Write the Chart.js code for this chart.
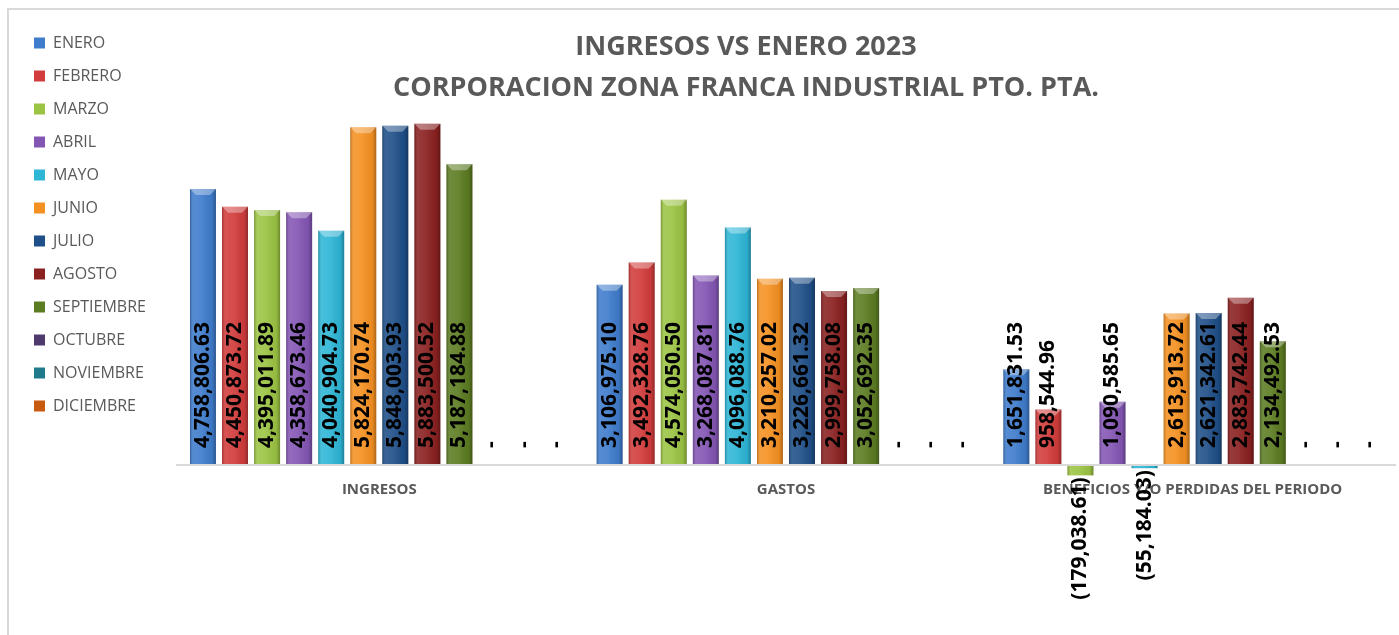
<!DOCTYPE html>
<html>
<head>
<meta charset="utf-8">
<script src="https://cdn.jsdelivr.net/npm/chart.js@4.4.1/dist/chart.umd.min.js"></script>
<style>
  body { margin: 0; background: #fff; }
  #wrap { position: relative; width: 1399px; height: 635px; overflow: hidden; }
  #frame { position: absolute; left: 7px; top: 8px; right: -10px; bottom: -10px;
           border-left: 2px solid #d9d9d9; border-top: 2px solid #d9d9d9; }
  #chart { position: absolute; left: 0; top: 0; }
</style>
</head>
<body>
<div id="wrap">
  <div id="frame"></div>
  <canvas id="chart" width="1399" height="635"></canvas>
</div>
<script>
const categories = ['INGRESOS', 'GASTOS', 'BENEFICIOS Y/O PERDIDAS DEL PERIODO'];
const months = ['ENERO', 'FEBRERO', 'MARZO', 'ABRIL', 'MAYO', 'JUNIO', 'JULIO',
                'AGOSTO', 'SEPTIEMBRE', 'OCTUBRE', 'NOVIEMBRE', 'DICIEMBRE'];

const enero      = [4758806.63, 3106975.10, 1651831.53];
const febrero    = [4450873.72, 3492328.76, 958544.96];
const marzo      = [4395011.89, 4574050.50, -179038.61];
const abril      = [4358673.46, 3268087.81, 1090585.65];
const mayo       = [4040904.73, 4096088.76, -55184.03];
const junio      = [5824170.74, 3210257.02, 2613913.72];
const julio      = [5848003.93, 3226661.32, 2621342.61];
const agosto     = [5883500.52, 2999758.08, 2883742.44];
const septiembre = [5187184.88, 3052692.35, 2134492.53];
const octubre    = [0, 0, 0];
const noviembre  = [0, 0, 0];
const diciembre  = [0, 0, 0];

const monthValues = [enero, febrero, marzo, abril, mayo, junio, julio,
                     agosto, septiembre, octubre, noviembre, diciembre];
const monthColors = ['#3f7ccc', '#d23c3c', '#9cc444', '#8456b4', '#2eb6d6', '#f59122',
                     '#1f4f88', '#8a2020', '#5c7c22', '#4f3a6e', '#1f7a8c', '#c85a10'];

const titleLines = ['INGRESOS VS ENERO 2023', 'CORPORACION ZONA FRANCA INDUSTRIAL PTO. PTA.'];

function fmt(v) {
    if (v === 0) return '-';
    const s = Math.abs(v).toLocaleString('en-US', { minimumFractionDigits: 2, maximumFractionDigits: 2 });
    return v < 0 ? '(' + s + ')' : s;
}

// bevel / shine on each bar, then the rotated value labels
const barLook = {
    id: 'barLook',
    afterDatasetsDraw(chart) {
        const ctx = chart.ctx;
        const zeroY = chart.scales.y.getPixelForValue(0);
        chart.data.datasets.forEach((ds, di) => {
            const meta = chart.getDatasetMeta(di);
            meta.data.forEach((bar, i) => {
                const v = ds.data[i];
                const left = bar.x - bar.width / 2;
                const right = bar.x + bar.width / 2;
                const top = Math.min(bar.y, bar.base);
                const bottom = Math.max(bar.y, bar.base);
                if (v !== 0) {
                    const g = ctx.createLinearGradient(left, 0, right, 0);
                    g.addColorStop(0, 'rgba(0,0,0,0.25)');
                    g.addColorStop(0.12, 'rgba(255,255,255,0.12)');
                    g.addColorStop(0.45, 'rgba(255,255,255,0.08)');
                    g.addColorStop(0.85, 'rgba(0,0,0,0.05)');
                    g.addColorStop(1, 'rgba(0,0,0,0.3)');
                    ctx.save();
                    ctx.fillStyle = g;
                    ctx.fillRect(left, top, right - left, bottom - top);
                    if (v > 0 && bottom - top > 8) {
                        ctx.fillStyle = 'rgba(255,255,255,0.35)';
                        ctx.beginPath();
                        ctx.moveTo(left, top);
                        ctx.lineTo(right, top);
                        ctx.lineTo(right - 6, top + 6);
                        ctx.lineTo(left + 6, top + 6);
                        ctx.closePath();
                        ctx.fill();
                    }
                    ctx.restore();
                }
                ctx.save();
                ctx.font = 'bold 21px "Open Sans"';
                ctx.fillStyle = '#000';
                ctx.textBaseline = 'middle';
                if (v < 0) {
                    ctx.translate(bar.x, Math.max(bar.y, zeroY) + 2);
                    ctx.rotate(-Math.PI / 2);
                    ctx.textAlign = 'right';
                } else {
                    ctx.translate(bar.x, zeroY - 17);
                    ctx.rotate(-Math.PI / 2);
                    ctx.textAlign = 'left';
                }
                ctx.fillText(fmt(v), 0, 0);
                ctx.restore();
            });
        });
    },
    afterDraw(chart) {
        const ctx = chart.ctx;
        ctx.save();
        ctx.font = 'bold 27px "Open Sans"';
        ctx.fillStyle = '#595959';
        ctx.textAlign = 'center';
        ctx.textBaseline = 'middle';
        ctx.fillText(titleLines[0], 746, 47);
        ctx.fillText(titleLines[1], 746, 88);
        ctx.restore();
    }
};

new Chart(document.getElementById('chart'), {
    type: 'bar',
    data: {
        labels: categories,
        datasets: months.map((m, i) => ({
            label: m,
            data: monthValues[i],
            backgroundColor: monthColors[i],
            borderWidth: 0,
            categoryPercentage: 0.946,
            barPercentage: 0.81
        }))
    },
    options: {
        responsive: false,
        animation: false,
        devicePixelRatio: 1,
        layout: { padding: { top: 18, left: 17, right: 3, bottom: 133 } },
        plugins: {
            title: { display: false },
            tooltip: { enabled: false },
            legend: {
                position: 'left',
                align: 'start',
                labels: {
                    boxWidth: 11,
                    boxHeight: 11,
                    padding: 17,
                    color: '#595959',
                    font: { family: 'Open Sans', size: 16 }
                }
            }
        },
        scales: {
            x: {
                grid: { display: false, drawTicks: false },
                border: { display: false },
                ticks: {
                    padding: 3,
                    color: '#595959',
                    font: { family: 'Open Sans', size: 15, weight: 'bold' }
                }
            },
            y: {
                min: -224100,
                max: 7706900,
                border: { display: false },
                ticks: { display: false },
                afterBuildTicks: s => { s.ticks = [{ value: 0 }]; },
                afterFit: s => { s.width = 20; },
                grid: {
                    drawTicks: false,
                    lineWidth: 2,
                    color: c => c.tick && c.tick.value === 0 ? '#d9d9d9' : 'rgba(0,0,0,0)'
                }
            }
        }
    },
    plugins: [barLook]
});
</script>
</body>
</html>
